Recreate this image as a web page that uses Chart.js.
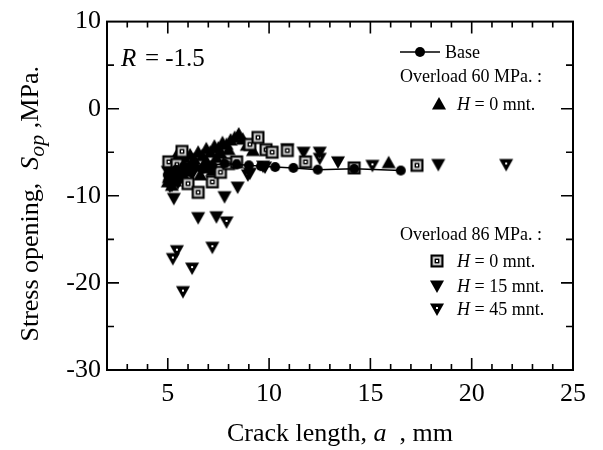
<!DOCTYPE html>
<html>
<head>
<meta charset="utf-8">
<script src="https://cdn.jsdelivr.net/npm/chart.js@4/dist/chart.umd.min.js"></script>
<style>
  body { margin: 0; background: #fff; }
  #wrap { width: 603px; height: 450px; }
</style>
</head>
<body>
<div id="wrap"><canvas id="chart" width="603" height="450"></canvas></div>
<script>
// data
const baseX = [5.0, 5.4, 5.8, 6.2, 6.7, 7.2, 7.8, 8.4, 9.0, 9.6, 10.3, 11.2, 12.4, 14.2, 16.5];
const baseY = [-7.6, -7.0, -6.6, -6.8, -6.9, -6.5, -6.3, -6.4, -6.5, -6.6, -6.7, -6.8, -7.0, -6.9, -7.1];

const ol60X = [5.0, 5.1, 5.2, 5.3, 5.4, 5.5, 5.6, 5.8, 6.0, 6.1, 6.3, 6.5, 6.7, 6.9, 7.1, 7.3, 7.5, 7.7, 7.9, 8.1, 8.3, 8.5, 8.7, 8.9, 9.2,
               5.4, 5.9, 6.4, 6.9, 7.4, 5.2, 5.5, 5.7, 6.2, 6.6, 7.0, 7.6, 8.0, 6.8, 7.2, 5.05, 5.35, 15.9];
const ol60Y = [-8.4, -7.6, -8.8, -7.0, -6.3, -7.9, -6.0, -5.6, -6.8, -5.3, -5.8, -5.0, -5.4, -4.6, -5.0, -4.3, -4.5, -3.9, -4.1, -3.6, -3.3, -2.9, -3.5, -4.2, -4.8,
               -5.5, -7.2, -6.6, -6.0, -5.6, -6.5, -6.9, -7.4, -6.2, -7.6, -6.8, -5.1, -4.7, -6.3, -7.1, -7.9, -8.3, -6.2];

const ol86h0X = [5.05, 5.45, 5.7, 6.0, 6.5, 7.2, 7.6, 8.0, 8.4, 9.05, 9.45, 9.85, 10.15, 10.9, 11.8, 14.2, 17.3];
const ol86h0Y = [-6.1, -6.4, -4.9, -8.6, -9.6, -8.4, -7.3, -6.3, -6.1, -4.1, -3.3, -4.7, -5.0, -4.8, -6.1, -6.8, -6.5];

const ol86h15X = [5.0, 5.15, 5.3, 5.5, 5.8, 6.5, 7.4, 7.8, 8.45, 9.05, 9.8, 10.9, 11.7, 12.5, 13.4, 18.35, 5.1, 5.6, 6.2];
const ol86h15Y = [-7.2, -8.0, -10.3, -8.5, -7.0, -12.5, -12.4, -10.1, -9.0, -7.4, -6.7, -4.6, -5.0, -5.0, -6.1, -6.4, -8.9, -7.8, -7.5];

const ol86h45X = [5.2, 5.25, 5.45, 5.75, 6.2, 7.2, 7.9, 8.95, 9.7, 12.5, 15.1, 21.7];
const ol86h45Y = [-8.8, -17.2, -16.3, -21.0, -18.3, -15.9, -13.0, -7.6, -6.6, -5.7, -6.5, -6.4];

const xTickLabels = [5, 10, 15, 20, 25];
const yTickLabels = [10, 0, -10, -20, -30];

const pts = (xs, ys) => xs.map((x, i) => ({ x: x, y: ys[i] }));

// marker images
function drawMarker(ctx, kind, cx, cy) {
  ctx.save();
  ctx.fillStyle = '#000';
  if (kind === 'circle') {
    ctx.beginPath(); ctx.arc(cx, cy, 5, 0, Math.PI * 2); ctx.fill();
  } else if (kind === 'up') {
    ctx.beginPath(); ctx.moveTo(cx, cy - 7); ctx.lineTo(cx + 7, cy + 5.5); ctx.lineTo(cx - 7, cy + 5.5); ctx.closePath(); ctx.fill();
  } else if (kind === 'down' || kind === 'downdot') {
    ctx.beginPath(); ctx.moveTo(cx - 7, cy - 5.5); ctx.lineTo(cx + 7, cy - 5.5); ctx.lineTo(cx, cy + 7); ctx.closePath(); ctx.fill();
    if (kind === 'downdot') { ctx.fillStyle = '#fff'; ctx.fillRect(cx - 1, cy - 2, 2, 2); }
  } else if (kind === 'square') {
    ctx.fillRect(cx - 6.5, cy - 6.5, 13, 13);
    ctx.fillStyle = '#999'; ctx.fillRect(cx - 4.5, cy - 4.5, 9, 9);
    ctx.fillStyle = '#fff'; ctx.fillRect(cx - 3.5, cy - 3.5, 7, 7);
    ctx.fillStyle = '#000'; ctx.fillRect(cx - 2.5, cy - 2.5, 5, 5);
    ctx.fillStyle = '#fff'; ctx.fillRect(cx - 1, cy - 1, 2, 2);
  }
  ctx.restore();
}
function markerImage(kind) {
  const c = document.createElement('canvas');
  c.width = 16; c.height = 16;
  drawMarker(c.getContext('2d'), kind, 8, 8);
  return c;
}

const serif = '"Liberation Serif", "Times New Roman", serif';

// inward ticks on all four sides, frame, titles and legend
const decor = {
  id: 'decor',
  afterDraw(chart) {
    const { ctx, chartArea: a, scales: { x, y } } = chart;
    ctx.save();
    ctx.strokeStyle = '#000';
    ctx.lineWidth = 2;
    ctx.strokeRect(a.left, a.top, a.right - a.left, a.bottom - a.top);
    ctx.lineWidth = 1.6;
    ctx.beginPath();
    for (let v = 3; v < 25; v++) {
      const px = x.getPixelForValue(v);
      const len = v % 5 === 0 ? 12 : 6;
      ctx.moveTo(px, a.bottom); ctx.lineTo(px, a.bottom - len);
      ctx.moveTo(px, a.top); ctx.lineTo(px, a.top + len);
    }
    for (let v = -25; v < 10; v += 5) {
      const py = y.getPixelForValue(v);
      const len = v % 10 === 0 ? 12 : 7;
      ctx.moveTo(a.left, py); ctx.lineTo(a.left + len, py);
      ctx.moveTo(a.right, py); ctx.lineTo(a.right - len, py);
    }
    ctx.stroke();

    ctx.fillStyle = '#000';
    ctx.textBaseline = 'alphabetic';

    // x title
    const xParts = [['Crack length, ', '26px ' + serif], ['a', 'italic 26px ' + serif], ['  , mm', '26px ' + serif]];
    let w = 0;
    xParts.forEach(p => { ctx.font = p[1]; w += ctx.measureText(p[0]).width; });
    let cx = (a.left + a.right) / 2 - w / 2;
    xParts.forEach(p => { ctx.font = p[1]; ctx.fillText(p[0], cx, 441); cx += ctx.measureText(p[0]).width; });

    // y title
    ctx.save();
    ctx.translate(38, (a.top + a.bottom) / 2);
    ctx.rotate(-Math.PI / 2);
    const yParts = [['Stress opening,  ', '26px ' + serif, 0], ['S', 'italic 26px ' + serif, 0], ['op', 'italic 22px ' + serif, 6], [' ,MPa.', '26px ' + serif, 0]];
    w = 0;
    yParts.forEach(p => { ctx.font = p[1]; w += ctx.measureText(p[0]).width; });
    cx = -w / 2 - 8;
    yParts.forEach(p => { ctx.font = p[1]; ctx.fillText(p[0], cx, p[2]); cx += ctx.measureText(p[0]).width; });
    ctx.restore();

    // R label
    ctx.font = 'italic 25px ' + serif;
    ctx.fillText('R', 121, 66);
    ctx.font = '25px ' + serif;
    ctx.fillText(' = -1.5', 121 + ctx.measureText('R').width + 1, 66);

    // legend
    ctx.lineWidth = 1.5;
    ctx.beginPath(); ctx.moveTo(400, 52); ctx.lineTo(440, 52); ctx.stroke();
    drawMarker(ctx, 'circle', 420, 52);
    ctx.font = '18px ' + serif;
    ctx.fillText('Base', 445, 58);
    ctx.fillText('Overload 60 MPa. :', 400, 82);
    const hRow = (kind, mx, my, txt, base) => {
      drawMarker(ctx, kind, mx, my);
      ctx.font = 'italic 18px ' + serif;
      ctx.fillText('H', 457, base);
      const hw = ctx.measureText('H').width;
      ctx.font = '18px ' + serif;
      ctx.fillText(' = ' + txt, 457 + hw, base);
    };
    hRow('up', 439, 104, '0 mnt.', 110);
    ctx.font = '18px ' + serif;
    ctx.fillText('Overload 86 MPa. :', 400, 240);
    hRow('square', 437, 261, '0 mnt.', 267);
    hRow('down', 437, 286, '15 mnt.', 292);
    hRow('downdot', 437, 309, '45 mnt.', 315);
    ctx.restore();
  }
};

new Chart(document.getElementById('chart'), {
  type: 'scatter',
  data: {
    datasets: [
      { label: 'Base', data: pts(baseX, baseY), showLine: true, borderColor: '#000', borderWidth: 1.5,
        pointStyle: markerImage('circle'), order: 1 },
      { label: 'Overload 60 MPa. H = 0 mnt.', data: pts(ol60X, ol60Y), pointStyle: markerImage('up'), order: 3 },
      { label: 'Overload 86 MPa. H = 0 mnt.', data: pts(ol86h0X, ol86h0Y), pointStyle: markerImage('square'), order: 2 },
      { label: 'Overload 86 MPa. H = 15 mnt.', data: pts(ol86h15X, ol86h15Y), pointStyle: markerImage('down'), order: 4 },
      { label: 'Overload 86 MPa. H = 45 mnt.', data: pts(ol86h45X, ol86h45Y), pointStyle: markerImage('downdot'), order: 5 }
    ]
  },
  options: {
    responsive: false,
    animation: false,
    events: [],
    layout: { padding: { top: 21, right: 30, left: 0, bottom: 0 } },
    plugins: { legend: { display: false }, tooltip: { enabled: false } },
    scales: {
      x: {
        type: 'linear', min: 2, max: 25,
        grid: { display: false, drawTicks: false },
        border: { display: false },
        afterFit: s => { s.height = 80; },
        ticks: {
          stepSize: 1, autoSkip: false, maxRotation: 0, padding: 9,
          color: '#000', font: { family: serif, size: 26 },
          callback: v => xTickLabels.includes(v) ? String(v) : ''
        }
      },
      y: {
        type: 'linear', min: -30, max: 10,
        grid: { display: false, drawTicks: false },
        border: { display: false },
        afterFit: s => { s.width = 107; },
        ticks: {
          stepSize: 10, padding: 6,
          color: '#000', font: { family: serif, size: 26 },
          callback: v => yTickLabels.includes(v) ? String(v) : ''
        }
      }
    }
  },
  plugins: [decor]
});
</script>
</body>
</html>
